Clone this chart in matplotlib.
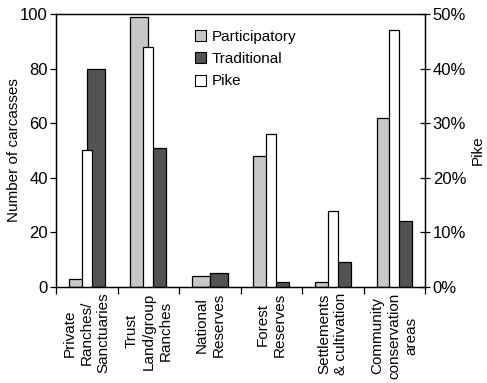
import numpy as np
import matplotlib
matplotlib.use('Agg')
import matplotlib.pyplot as plt
from matplotlib.patches import Patch
from matplotlib.ticker import FixedLocator, PercentFormatter

plt.rcParams['font.family'] = ['Liberation Sans', 'DejaVu Sans']
plt.rcParams['font.size'] = 11

categories = [
    "Private\nRanches/\nSanctuaries",
    "Trust\nLand/group\nRanches",
    "National\nReserves",
    "Forest\nReserves",
    "Settlements\n& cultivation",
    "Community\nconservation\nareas",
]
participatory = [3, 99, 4, 48, 2, 62]
traditional = [80, 51, 5, 2, 9, 24]
pike_pct = [25, 44, 0, 28, 14, 47]

light = '#c6c7c9'
dark = '#515355'


def main():
    fig = plt.figure(figsize=(4.87, 3.83), dpi=100)
    ax = fig.add_axes([0.115, 0.2507, 0.758, 0.7127])
    ax2 = ax.twinx()

    x = np.arange(len(categories))
    w = 0.29
    ax.bar(x - w / 2, participatory, w, color=light, edgecolor='black',
           linewidth=0.9, zorder=2)
    ax.bar(x + w / 2, traditional, w, color=dark, edgecolor='black',
           linewidth=0.9, zorder=2)
    ax2.bar(x, pike_pct, 0.165, color='white', edgecolor='black',
            linewidth=0.9, zorder=2)

    ax.set_xlim(-0.5, len(categories) - 0.5)
    ax.set_ylim(0, 100)
    ax2.set_ylim(0, 50)

    ax.set_yticks(np.arange(0, 101, 20))
    ax.tick_params(axis='y', direction='out', length=4, width=0.9, pad=2,
                   labelsize=12)
    ax2.set_yticks(np.arange(0, 51, 10))
    ax2.yaxis.set_major_formatter(PercentFormatter(decimals=0))
    ax2.tick_params(axis='y', direction='inout', length=7, width=0.9, pad=2,
                    labelsize=12)

    # category boundaries as ticks, labels centred on the groups
    ax.xaxis.set_major_locator(FixedLocator(np.arange(-0.5, len(categories), 1)))
    ax.xaxis.set_minor_locator(FixedLocator(x))
    ax.set_xticklabels([], minor=False)
    ax.set_xticklabels(categories, minor=True, rotation=90,
                       ha='center', va='top', multialignment='center',
                       linespacing=1.27)
    ax.tick_params(axis='x', which='major', direction='out', length=5,
                   width=0.9)
    ax.tick_params(axis='x', which='minor', length=0, pad=4)
    ax2.tick_params(axis='x', which='both', length=0)

    for a in (ax, ax2):
        for s in a.spines.values():
            s.set_linewidth(0.9)

    ax.set_ylabel("Number of carcasses", labelpad=-1)
    ax2.set_ylabel("Pike", labelpad=3)

    handles = [
        Patch(facecolor=light, edgecolor='black', linewidth=0.8),
        Patch(facecolor=dark, edgecolor='black', linewidth=0.8),
        Patch(facecolor='white', edgecolor='black', linewidth=0.8),
    ]
    ax2.legend(handles, ["Participatory", "Traditional", "Pike"],
               loc='upper left', bbox_to_anchor=(0.36, 0.965), frameon=False,
               handlelength=0.75, handleheight=0.75, handletextpad=0.35,
               labelspacing=0.55, borderaxespad=0)

    fig.savefig('out.png', dpi=100)


if __name__ == '__main__':
    main()
